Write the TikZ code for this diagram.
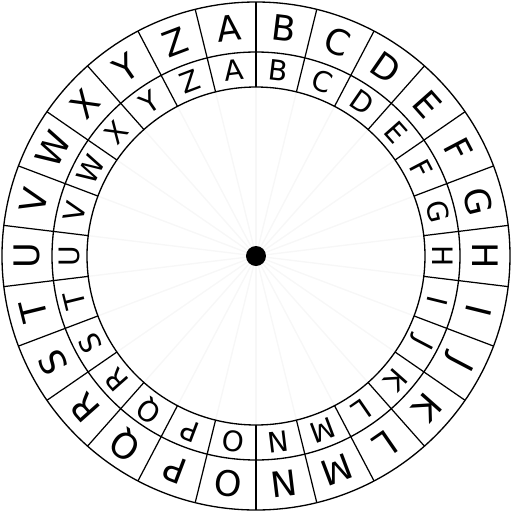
\documentclass[tikz,border=0pt]{standalone}
\usepackage{fontspec}
\setmainfont{DejaVu Sans}

\begin{document}
\begin{tikzpicture}[
    x=0.02cm, y=0.02cm,
    ring/.style={draw=black, line width=0.75pt},
    divider/.style={draw=black, line width=0.7pt},
    spoke/.style={draw=black!3, line width=0.8pt},
    outerletter/.style={font=\fontsize{20}{20}\selectfont, inner sep=0pt},
    innerletter/.style={font=\fontsize{16}{16}\selectfont, inner sep=0pt}
]
    \useasboundingbox (-256,-256) rectangle (256,256);
    \coordinate (hub) at (0,0);

    % faint spokes on the inner disk
    \foreach \k in {0,...,25}
        \draw[spoke] (hub) -- ({90+\k*360/26}:169);

    % rings
    \draw[ring] (hub) circle (254);
    \draw[ring] (hub) circle (204);
    \draw[ring] (hub) circle (169);

    % sector dividers
    \foreach \k in {0,...,25}
        \draw[divider] ({90+\k*360/26}:169) -- ({90+\k*360/26}:254);

    % letters, clockwise from A
    \foreach \l [count=\i from 0] in {A,...,Z} {
        \pgfmathsetmacro{\a}{90+180/26-\i*360/26}
        \node[outerletter, rotate=\a-90] (out\l) at (\a:229) {\l};
        \node[innerletter, rotate=\a-90] (in\l) at (\a:187) {\l};
    }

    \fill (hub) circle (10);
\end{tikzpicture}
\end{document}
